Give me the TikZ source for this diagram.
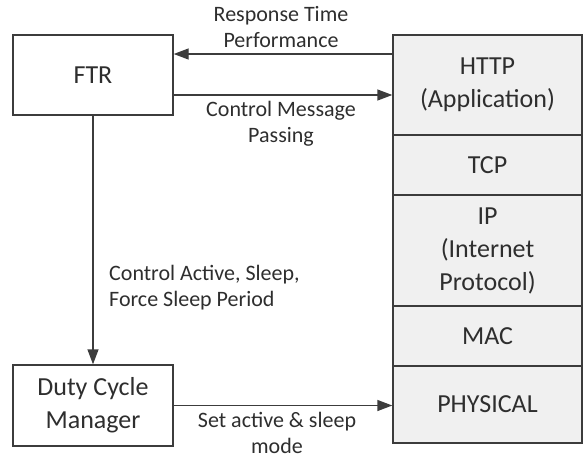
\documentclass[tikz,border=0pt]{standalone}
\usepackage{fontspec}
\setmainfont{Carlito}
\usetikzlibrary{arrows.meta,calc}
\definecolor{linegray}{HTML}{3C3C3C}
\definecolor{textgray}{HTML}{2E2E2E}
\definecolor{layerfill}{HTML}{F0F0F0}
\tikzset{
  block/.style={draw=linegray, line width=1.4pt, fill=white, text=textgray,
    align=center, inner sep=0pt, font=\fontsize{26}{33}\selectfont},
  layer/.style={block, fill=layerfill, minimum width=189pt},
  flow/.style={draw=linegray, line width=1.4pt,
    -{Triangle[length=15pt,width=11pt]}},
  tag/.style={text=textgray, align=center, inner sep=0pt,
    font=\fontsize{22}{26}\selectfont},
}
\begin{document}
\begin{tikzpicture}[x=1pt,y=-1pt]
  \useasboundingbox (0,0) rectangle (583,459);

  % controller boxes
  \node[block, minimum width=160pt, minimum height=80pt] (ftr) at (93,75) {FTR};
  \node[block, minimum width=160pt, minimum height=81pt] (dcm) at (93,405.5)
    {Duty Cycle\\Manager};

  % protocol stack
  \node[layer, minimum height=100pt] (http) at (487.5,85)    {HTTP\\(Application)};
  \node[layer, minimum height=60pt]  (tcp)  at (487.5,165)   {TCP};
  \node[layer, minimum height=111pt] (ip)   at (487.5,250.5) {IP\\(Internet\\Protocol)};
  \node[layer, minimum height=60pt]  (mac)  at (487.5,336)   {MAC};
  \node[layer, minimum height=77pt]  (phy)  at (487.5,404.5) {PHYSICAL};

  % connectors
  \draw[flow] ([yshift=31pt]http.west) -- ([yshift=21pt]ftr.east);
  \draw[flow] ([yshift=-20pt]ftr.east) -- ([yshift=-10pt]http.west);
  \draw[flow] (ftr.south) -- (dcm.north);
  \draw[flow] (dcm.east) -- (dcm.east -| phy.west);

  % connector labels
  \node[tag] (lresp) at (281,27) {Response Time\\Performance};
  \node[tag] (lctrl) at (281,124) {Control Message\\Passing};
  \node[tag, align=left, anchor=west] (lduty) at (109,287.5)
    {Control Active, Sleep,\\Force Sleep Period};
  \node[tag] (lset) at (277,432.5) {Set active \& sleep\\mode};
\end{tikzpicture}
\end{document}
